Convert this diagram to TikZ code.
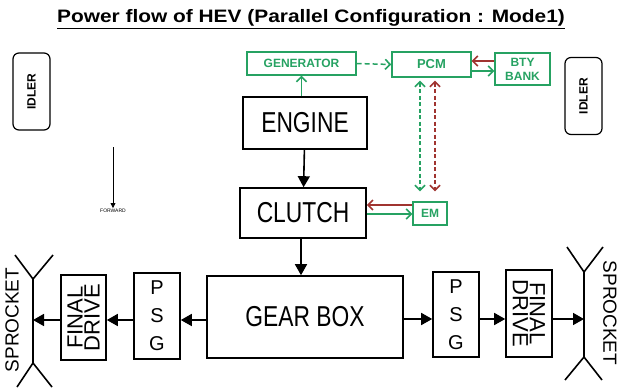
\documentclass[tikz,border=0pt]{standalone}
\usepackage{fontspec}
\setmainfont{Liberation Sans}
\usetikzlibrary{arrows.meta}

\definecolor{hevgreen}{RGB}{38,162,98}
\definecolor{hevred}{RGB}{160,52,48}

\newcommand{\tallbox}[1]{\scalebox{0.95}[1.2]{#1}}

\tikzset{
  blk/.style={draw, line width=1.6pt, inner sep=0pt, font=\fontsize{24}{26}\selectfont},
  gblk/.style={draw=hevgreen, line width=1.4pt, inner sep=0pt, text=hevgreen, font=\bfseries\fontsize{12}{14}\selectfont},
  idler/.style={draw, line width=1.2pt, rounded corners=6pt, rotate=90, inner sep=0pt,
    minimum width=77pt, minimum height=37pt, font=\bfseries\fontsize{12}{14}\selectfont},
  barr/.style={line width=1.6pt, -{Triangle[length=11pt,width=12pt]}},
  gtip/.style={-{Straight Barb[length=5pt,width=10pt,line width=1.6pt]}},
  garr/.style={draw=hevgreen, line width=1.5pt, gtip},
  rarr/.style={draw=hevred, line width=1.5pt, gtip},
  dsh/.style={dash pattern=on 5pt off 3pt}
}

\begin{document}
\begin{tikzpicture}[x=1pt, y=-1pt]
        \useasboundingbox (0,0) rectangle (621,388);

        % Titel
        \node (title) at (311,19) {\scalebox{1.16}[1]{\bfseries\fontsize{18}{20}\selectfont\underline{Power flow of HEV (Parallel Configuration : Mode1)}}};

        % Idler links und rechts
        \node[idler] (idlerL) at (31.5,91.5) {IDLER};
        \node[idler] (idlerR) at (583.5,96) {IDLER};

        % Elektrischer Teil (gruen)
        \node[gblk, minimum width=109pt, minimum height=23pt] (gen) at (301.5,63.5) {GENERATOR};
        \node[gblk, minimum width=79pt, minimum height=25pt, font=\bfseries\fontsize{13}{15}\selectfont] (pcm) at (431.5,64.5) {PCM};
        \node[gblk, minimum width=55pt, minimum height=32pt, align=center, font=\bfseries\fontsize{12}{14}\selectfont] (bty) at (522.5,69) {BTY\\BANK};
        \node[gblk, minimum width=34pt, minimum height=23pt, font=\bfseries\fontsize{12}{14}\selectfont] (em) at (430,213.5) {EM};

        % Mechanischer Teil
        \node[blk, minimum width=124pt, minimum height=52pt] (engine) at (305,123) {\tallbox{ENGINE}};
        \node[blk, minimum width=126pt, minimum height=50pt] (clutch) at (303,213) {\tallbox{CLUTCH}};
        \node[blk, minimum width=196pt, minimum height=82pt] (gearbox) at (305,317) {\tallbox{GEAR BOX}};

        \node[blk, minimum width=46pt, minimum height=86pt, align=center, font=\fontsize{20}{28}\selectfont] (psgL) at (157,316) {P\\S\\G};
        \node[blk, minimum width=46pt, minimum height=85pt, align=center, font=\fontsize{20}{28}\selectfont] (psgR) at (456,314.5) {P\\S\\G};

        \node[blk, rotate=90, minimum width=85pt, minimum height=45pt, align=center, font=\fontsize{22}{17}\selectfont] (fdL) at (83.5,317.5) {FINAL\\DRIVE};
        \node[blk, rotate=-90, minimum width=87pt, minimum height=46pt, align=center, font=\fontsize{22}{17}\selectfont] (fdR) at (529,313.5) {FINAL\\DRIVE};

        % Sprocket links
        \coordinate (sprLtop) at (33,279);
        \coordinate (sprLbot) at (33,363);
        \coordinate (sprLmid) at (33,320);
        \draw[line width=1.6pt] (15,255) -- (sprLtop) -- (53,255);
        \draw[line width=1.6pt] (sprLtop) -- (sprLbot);
        \draw[line width=1.6pt] (17,387) -- (sprLbot) -- (52,387);
        \node[rotate=90, font=\fontsize{19}{21}\selectfont] (sprtxtL) at (12,320) {SPROCKET};

        % Sprocket rechts
        \coordinate (sprRtop) at (584,272);
        \coordinate (sprRbot) at (584,357);
        \coordinate (sprRmid) at (584,319);
        \draw[line width=1.6pt] (567,247) -- (sprRtop) -- (603,247);
        \draw[line width=1.6pt] (sprRtop) -- (sprRbot);
        \draw[line width=1.6pt] (565,380) -- (sprRbot) -- (602,380);
        \node[rotate=-90, font=\fontsize{19}{21}\selectfont] (sprtxtR) at (610,313) {SPROCKET};

        % Fahrtrichtung
        \coordinate (fwdtop) at (113,147);
        \node[font=\fontsize{5}{6}\selectfont, inner sep=1pt] (fwd) at (113,211) {FORWARD};
        \draw[line width=0.8pt, -{Triangle[length=5pt,width=5pt]}] (fwdtop) -- (fwd.north);

        % Kraftfluss mechanisch
        \draw[barr] (engine) -- (clutch);
        \draw[barr] (clutch.south -| 301,0) -- (gearbox.north -| 301,0);
        \draw[barr] (gearbox.west |- 0,320) -- (psgL.east |- 0,320);
        \draw[barr] (psgL.west |- 0,320) -- (fdL.south |- 0,320);
        \draw[barr] (fdL.north |- 0,320) -- (sprLmid);
        \draw[barr] (gearbox.east |- 0,319) -- (psgR.west |- 0,319);
        \draw[barr] (psgR.east |- 0,319) -- (fdR.south |- 0,319);
        \draw[barr] (fdR.north |- 0,319) -- (sprRmid);

        % Kraftfluss elektrisch
        \draw[garr] (gen.south |- engine.north) -- (gen.south);
        \draw[garr, dsh] (gen.east) -- (pcm.west);
        \draw[rarr] (bty.west |- 0,61) -- (pcm.east |- 0,61);
        \draw[garr] (pcm.east |- 0,71) -- (bty.west |- 0,71);
        \draw[rarr] (em.west |- 0,205) -- (clutch.east |- 0,205);
        \draw[garr] (clutch.east |- 0,214) -- (em.west |- 0,214);
        \draw[garr, dash pattern=on 4pt off 2.5pt, {Straight Barb[length=5pt,width=10pt,line width=1.6pt]}-{Straight Barb[length=5pt,width=10pt,line width=1.6pt]}, shorten <=3pt, shorten >=10pt] (pcm.south -| 420,0) -- (em.north -| 420,0);
        \draw[rarr, dash pattern=on 4pt off 2.5pt, {Straight Barb[length=5pt,width=10pt,line width=1.6pt]}-{Straight Barb[length=5pt,width=10pt,line width=1.6pt]}, shorten <=3pt, shorten >=10pt] (pcm.south -| 435,0) -- (em.north -| 435,0);

    \end{tikzpicture}
\end{document}
